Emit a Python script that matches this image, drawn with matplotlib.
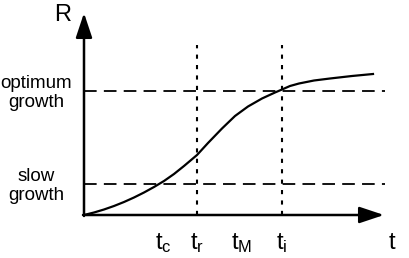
import matplotlib.pyplot as plt

plt.rcParams['font.family'] = ['Liberation Sans', 'DejaVu Sans']
plt.rcParams['mathtext.fontset'] = 'custom'
plt.rcParams['mathtext.rm'] = 'Liberation Sans'
plt.rcParams['mathtext.it'] = 'Liberation Sans'

# growth curve R(t)
t_curve = [0, 10, 20, 30, 40, 50, 60, 70, 80, 90, 100, 113, 124, 138, 151, 164,
           178, 191, 198, 206, 215, 230, 246, 268, 289]
R_curve = [0, 2.5, 5.5, 9, 13, 17.5, 22.5, 28, 34, 41, 49, 60, 72, 86.5, 99, 108.5,
           116.5, 122.5, 125.5, 129, 131.5, 134.5, 136.5, 139, 141]

R_optimum = 124
R_slow = 31
t_marks = [113, 198]   # t_r, t_i
t_labels = ["$\\mathregular{t_c}$", "$\\mathregular{t_r}$", "$\\mathregular{t_M}$", "$\\mathregular{t_i}$"]
t_label_pos = [79, 113, 158, 198]

fig = plt.figure(figsize=(4.09, 2.58), dpi=100)
ax = fig.add_axes([0, 0, 1, 1])
ax.set_xlim(-84, 325)
ax.set_ylim(-43, 215)
ax.axis('off')

# axes with arrows
head = '-|>,head_length=0.6,head_width=0.2'
ax.annotate('', xy=(300, 0), xytext=(-1, 0),
            arrowprops=dict(arrowstyle=head, mutation_scale=25, lw=1.8, color='black',
                            shrinkA=0, shrinkB=0))
ax.annotate('', xy=(0, 202), xytext=(0, -1),
            arrowprops=dict(arrowstyle=head, mutation_scale=25, lw=1.8, color='black',
                            shrinkA=0, shrinkB=0))

# reference lines
ax.plot([0, 301], [R_optimum, R_optimum], color='black', lw=1.3, dashes=(7, 4))
ax.plot([0, 301], [R_slow, R_slow], color='black', lw=1.3, dashes=(7, 4))
for tm in t_marks:
    ax.plot([tm, tm], [0, 170], color='black', lw=1.5, dashes=(2, 3))

ax.plot(t_curve, R_curve, color='black', lw=1.6)

ax.text(-21, 200, "R", fontsize=17, ha='center', va='center')
ax.text(308, -28, "t", fontsize=17, ha='center', va='center')
for lab, x in zip(t_labels, t_label_pos):
    ax.text(x, -28, lab, fontsize=17, ha='center', va='center')

ax.text(-48, 122, "optimum\ngrowth", fontsize=13.5, ha='center', va='center', linespacing=1.15)
ax.text(-48, 29, "slow\ngrowth", fontsize=13.5, ha='center', va='center', linespacing=1.15)

fig.savefig('out.png', dpi=100)
